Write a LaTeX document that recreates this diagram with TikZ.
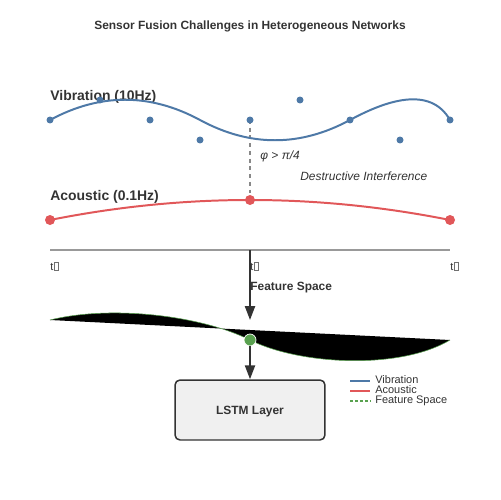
\documentclass[tikz,border=0pt]{standalone}
\usepackage{fontspec}
\setmainfont{Liberation Sans}
\usetikzlibrary{arrows.meta}
\definecolor{vib}{HTML}{4E79A7}
\definecolor{aco}{HTML}{E15759}
\definecolor{fea}{HTML}{59A14F}
\definecolor{ink}{HTML}{333333}
\definecolor{axisgray}{HTML}{999999}
\definecolor{dashgray}{HTML}{888888}
\definecolor{boxfill}{HTML}{F0F0F0}
\newcommand\tofubox{\kern0.3pt{\fboxsep=0pt\fboxrule=0.3pt\color{ink!70}\fbox{\rule{0pt}{4pt}\rule{2.2pt}{0pt}}}}
\begin{document}
\begin{tikzpicture}[x=0.02cm,y=-0.02cm,
  lbl/.style={anchor=base west, inner sep=0pt, text=ink},
  fsxi/.style={font=\fontsize{6.24pt}{7.5pt}\selectfont},
  fsxii/.style={font=\fontsize{6.8pt}{8pt}\selectfont},
  fsxiib/.style={font=\fontsize{6.8pt}{8pt}\selectfont\bfseries},
  fsxiii/.style={font=\fontsize{6.8pt}{8pt}\selectfont\itshape},
  fsxiv/.style={font=\fontsize{7.94pt}{9pt}\selectfont\bfseries},
  bdot/.style={circle, fill=vib, inner sep=0pt, minimum size=0.14cm},
  rdot/.style={circle, fill=aco, inner sep=0pt, minimum size=0.2cm},
  gdot/.style={circle, fill=fea, draw=white, line width=0.4pt, inner sep=0pt, minimum size=0.24cm},
  arr/.style={draw=ink, line width=1.13pt, -{Triangle[length=7.9pt,width=5.7pt]}},
  lstmbox/.style={draw=ink, fill=boxfill, line width=0.85pt, rounded corners=0.1cm,
    minimum width=3cm, minimum height=1.2cm, text=ink, text height=4.87pt, text depth=0pt}
]
\useasboundingbox (0,0) rectangle (500,500);

% title
\node[fsxiib, anchor=base, inner sep=0pt, text=ink] (title) at (250,30) {Sensor Fusion Challenges in Heterogeneous Networks};

% labels
\node[lbl, fsxiv] (vlab) at (50,101) {Vibration (10Hz)};
\node[lbl, fsxiv] (alab) at (50,200) {Acoustic (0.1Hz)};
\node[lbl, fsxiii] (phi) at (260,159) {φ > π/4};
\node[lbl, fsxiii] (destr) at (300,180) {Destructive Interference};

% dashed phase line
\coordinate (vc) at (250,120);
\coordinate (ac) at (250,200);
\draw[dashgray, line width=0.85pt, dash pattern=on 2.2pt off 2.2pt] (vc) -- (ac);

% vibration curve
\draw[vib, line width=1.13pt] (50,120) .. controls (100,93) and (150,93) .. (200,120)
  .. controls (250,147) and (300,147) .. (350,120)
  .. controls (385,101) and (430,85) .. (450,120);
% acoustic curve
\draw[aco, line width=1.13pt] (50,220) .. controls (116.7,206.7) and (183.3,200) .. (250,200)
  .. controls (316.7,200) and (383.3,206.7) .. (450,220);

% dots
\foreach \i/\xx/\yy in {1/50/120,2/100/100,3/150/120,4/200/140,5/250/120,6/300/100,7/350/120,8/400/140,9/450/120}
  \node[bdot] (v\i) at (\xx,\yy) {};
\node[rdot] (a1) at (50,220) {};
\node[rdot] (a2) at (250,200) {};
\node[rdot] (a3) at (450,220) {};

% time axis
\coordinate (ax0) at (50,250);
\coordinate (axm) at (250,250);
\coordinate (ax1) at (450,250);
\draw[axisgray, line width=1.13pt] (ax0) -- (ax1);
\node[lbl, fsxi] (t0) at (50,270) {t\tofubox};
\node[lbl, fsxi] (t1) at (250,270) {t\tofubox};
\node[lbl, fsxi] (t2) at (450,270) {t\tofubox};

% feature space
\node[lbl, fsxiib] (fslab) at (250,290) {Feature Space};
\coordinate (fstop) at (250,320);
\draw[arr] (axm) -- (fstop);

\fill[black] (50,320) .. controls (110,305) and (200,315) .. (250,340)
  .. controls (300,365) and (400,370) .. (450,340) -- cycle;
\draw[fea, line width=0.3pt] (50,320) .. controls (110,305) and (200,315) .. (250,340)
  .. controls (300,365) and (400,370) .. (450,340);
\node[gdot] (g) at (250,340) {};

% LSTM
\node[lstmbox, fsxiib] (lstm) at (250,410) {LSTM Layer};
\draw[arr] (g.south) -- (lstm.north);

% legend
\draw[vib, line width=1.7pt] (350,381) -- (370,381);
\draw[aco, line width=1.7pt] (350,391) -- (370,391);
\draw[fea, line width=1.13pt, dash pattern=on 1.7pt off 1.13pt] (350,401) -- (370,401);
\node[lbl, fsxi] (lg1) at (375,383) {Vibration};
\node[lbl, fsxi] (lg2) at (375,393) {Acoustic};
\node[lbl, fsxi] (lg3) at (375,403) {Feature Space};
\end{tikzpicture}
\end{document}
